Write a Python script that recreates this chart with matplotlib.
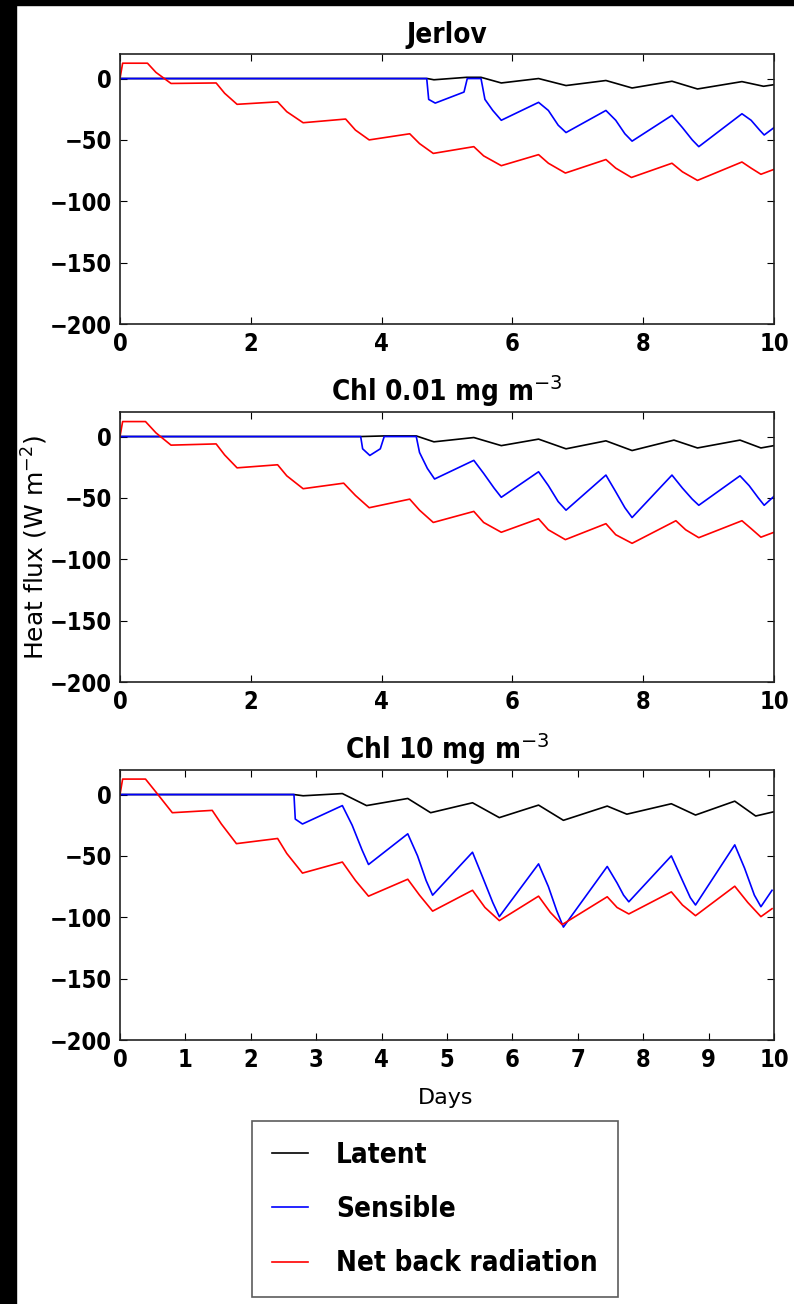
import matplotlib
matplotlib.use("Agg")
import matplotlib.pyplot as plt
from matplotlib.patches import Rectangle
from matplotlib.font_manager import FontProperties

# days / W m-2, one set per panel
titles = ["Jerlov", "Chl 0.01 mg m$^{-3}$", "Chl 10 mg m$^{-3}$"]
names = ["Latent", "Sensible", "Net back radiation"]

# ---- Jerlov
j_lat_d = [0, 4.7, 4.8, 5.3, 5.52, 5.83, 6.4, 6.82, 7.43, 7.83, 8.44, 8.83, 9.51, 9.84, 10]
j_lat_v = [0, 0, -1, 1, 1, -3.6, 0, -5.7, -1.6, -7.7, -2.2, -8.5, -2.5, -6.3, -5]
j_sen_d = [0, 4.69, 4.72, 4.82, 5.26, 5.31, 5.52, 5.58, 5.7, 5.83, 6.4, 6.55, 6.7, 6.82, 7.43,
           7.58, 7.72, 7.83, 8.44, 8.6, 8.75, 8.85, 9.51, 9.65, 9.78, 9.85, 10]
j_sen_v = [0, 0, -17, -20, -11, 0, 0, -17, -26, -34, -19.4, -26, -38, -44, -26,
           -34, -45, -51, -30, -40, -50, -55.5, -28.7, -34, -42, -46, -40]
j_net_d = [0, 0.04, 0.42, 0.55, 0.78, 1.47, 1.6, 1.79, 2.41, 2.55, 2.8, 3.45, 3.6, 3.81, 4.43,
           4.58, 4.79, 5.41, 5.56, 5.83, 6.4, 6.55, 6.81, 7.43, 7.58, 7.82, 8.44, 8.6, 8.83,
           9.51, 9.65, 9.8, 10]
j_net_v = [0, 12.5, 12.5, 5, -4, -3.6, -12, -21, -19, -27, -36, -33, -42, -50, -45,
           -53, -61, -55.5, -63, -71, -62, -69, -77, -66, -73, -80.6, -69, -76, -83,
           -68, -73, -78, -74]

# ---- Chl 0.01
a_lat_d = [0, 3.68, 4.04, 4.53, 4.8, 5.41, 5.83, 6.4, 6.82, 7.43, 7.83, 8.47, 8.83, 9.48, 9.8, 10]
a_lat_v = [0, 0, 0.5, 0.5, -4.3, -0.8, -7.4, -2.1, -10, -3.5, -11.4, -2.9, -9.3, -2.9, -9.3, -7.4]
a_sen_d = [0, 3.68, 3.71, 3.82, 3.98, 4.04, 4.53, 4.58, 4.7, 4.81, 5.41, 5.56, 5.72, 5.83, 6.4,
           6.55, 6.7, 6.82, 7.43, 7.58, 7.72, 7.83, 8.44, 8.6, 8.75, 8.85, 9.48, 9.62, 9.76, 9.85, 10]
a_sen_v = [0, 0, -10, -15.4, -10, 0, 0, -13, -26, -34.6, -19.4, -30, -42, -49.5, -28.7,
           -40, -53, -60, -31.4, -45, -58, -66, -31.4, -42, -51, -56, -32, -40, -50, -56, -48.7]
a_net_d = [0, 0.04, 0.39, 0.55, 0.78, 1.47, 1.6, 1.79, 2.41, 2.55, 2.8, 3.42, 3.6, 3.81, 4.43,
           4.58, 4.79, 5.41, 5.56, 5.83, 6.4, 6.55, 6.81, 7.43, 7.58, 7.83, 8.5, 8.65, 8.85,
           9.51, 9.65, 9.8, 10]
a_net_v = [0, 12.2, 12.2, 3, -7, -6, -15, -25.5, -23, -32, -42.5, -38, -48, -58, -51,
           -60, -70, -61, -70, -78, -67, -76, -84, -71, -80, -87, -68.6, -76, -82.4,
           -68.6, -75, -82, -78]

# ---- Chl 10
b_lat_d = [0, 2.66, 2.8, 3.4, 3.77, 4.4, 4.75, 5.39, 5.8, 6.4, 6.78, 7.45, 7.75, 8.43, 8.8, 9.4, 9.72, 10]
b_lat_v = [0, 0, -1, 0.8, -9, -3.2, -14.8, -6.7, -18.8, -8.6, -21, -9.4, -16, -7.5, -16.7, -5.4, -17.5, -14]
b_sen_d = [0, 2.66, 2.68, 2.79, 3.4, 3.55, 3.7, 3.8, 4.4, 4.55, 4.68, 4.78, 5.39, 5.55, 5.7, 5.8,
           6.4, 6.55, 6.68, 6.78, 7.45, 7.6, 7.7, 7.78, 8.43, 8.6, 8.72, 8.8, 9.4, 9.55, 9.7, 9.8, 9.97]
b_sen_v = [0, 0, -20, -24, -9, -25, -45, -57, -32, -50, -70, -82, -47, -68, -88, -99.5,
           -56.5, -75, -95, -108, -58.6, -72, -82, -87.4, -50, -70, -84, -90, -41, -60, -82, -91.4, -78]
b_net_d = [0, 0.04, 0.39, 0.55, 0.8, 1.41, 1.55, 1.78, 2.41, 2.55, 2.79, 3.4, 3.6, 3.8, 4.4,
           4.58, 4.78, 5.39, 5.58, 5.8, 6.4, 6.58, 6.76, 7.45, 7.6, 7.78, 8.43, 8.6, 8.8,
           9.4, 9.6, 9.8, 9.97]
b_net_v = [0, 12.6, 12.6, 2, -14.8, -12.9, -24, -40, -35.8, -48, -64, -55, -70, -82.8, -69,
           -82, -95, -78, -92, -102.7, -82.8, -96, -106, -83.3, -92, -97.3, -79.3, -90, -98.7,
           -74.7, -88, -99.5, -93]

panels = [
    (j_lat_d, j_lat_v, j_sen_d, j_sen_v, j_net_d, j_net_v),
    (a_lat_d, a_lat_v, a_sen_d, a_sen_v, a_net_d, a_net_v),
    (b_lat_d, b_lat_v, b_sen_d, b_sen_v, b_net_d, b_net_v),
]
xticks_list = [[0, 2, 4, 6, 8, 10], [0, 2, 4, 6, 8, 10], list(range(11))]
yticks = [0, -50, -100, -150, -200]

bold = dict(family="DejaVu Sans", weight="bold", stretch="condensed")

fig = plt.figure(figsize=(7.94, 13.04), dpi=100)
fig.patch.set_facecolor("white")
# black strips round the left and top edge
fig.add_artist(Rectangle((0, 0), 16 / 794, 1, transform=fig.transFigure, color="black", zorder=0))
fig.add_artist(Rectangle((0, 1 - 5 / 1304), 1, 5 / 1304, transform=fig.transFigure, color="black", zorder=0))

bottoms = [1 - 324 / 1304, 1 - 682 / 1304, 1 - 1040 / 1304]
handles = []
for k in range(3):
    ax = fig.add_axes([120 / 794, bottoms[k], 654 / 794, 270 / 1304])
    ld, lv, sd, sv, nd, nv = panels[k]
    h1, = ax.plot(ld, lv, color="k", lw=1.2)
    h2, = ax.plot(sd, sv, color="b", lw=1.2)
    h3, = ax.plot(nd, nv, color="r", lw=1.2)
    if k == 0:
        handles = [h1, h2, h3]
    ax.set_xlim(0, 10)
    ax.set_ylim(-200, 20)
    ax.set_xticks(xticks_list[k])
    ax.set_yticks(yticks)
    ax.tick_params(direction="in", top=True, right=True, length=5, width=0.8, pad=6)
    for lab in ax.get_xticklabels() + ax.get_yticklabels():
        lab.set_fontproperties(FontProperties(size=17, **bold))
    for s in ax.spines.values():
        s.set_linewidth(1.2)
        s.set_color("#222222")
    ax.set_title(titles[k], fontsize=20, pad=8, **bold)

fig.text(35 / 794, 1 - 548 / 1304, "Heat flux (W m$^{-2}$)", rotation=90,
         ha="center", va="center", fontsize=18)
fig.text(446 / 794, 1 - 1098 / 1304, "Days", ha="center", va="center", fontsize=16)

leg = fig.legend(handles, names, loc="center", bbox_to_anchor=(435 / 794, 1 - 1209 / 1304),
                 prop=FontProperties(size=20, **bold),
                 fancybox=False, handlelength=1.3, handletextpad=1.0, labelspacing=0.95,
                 borderpad=0.72, borderaxespad=0)
leg.get_frame().set_edgecolor("#333333")
leg.get_frame().set_linewidth(1.2)

fig.savefig("out.png", dpi=100, facecolor="white")
